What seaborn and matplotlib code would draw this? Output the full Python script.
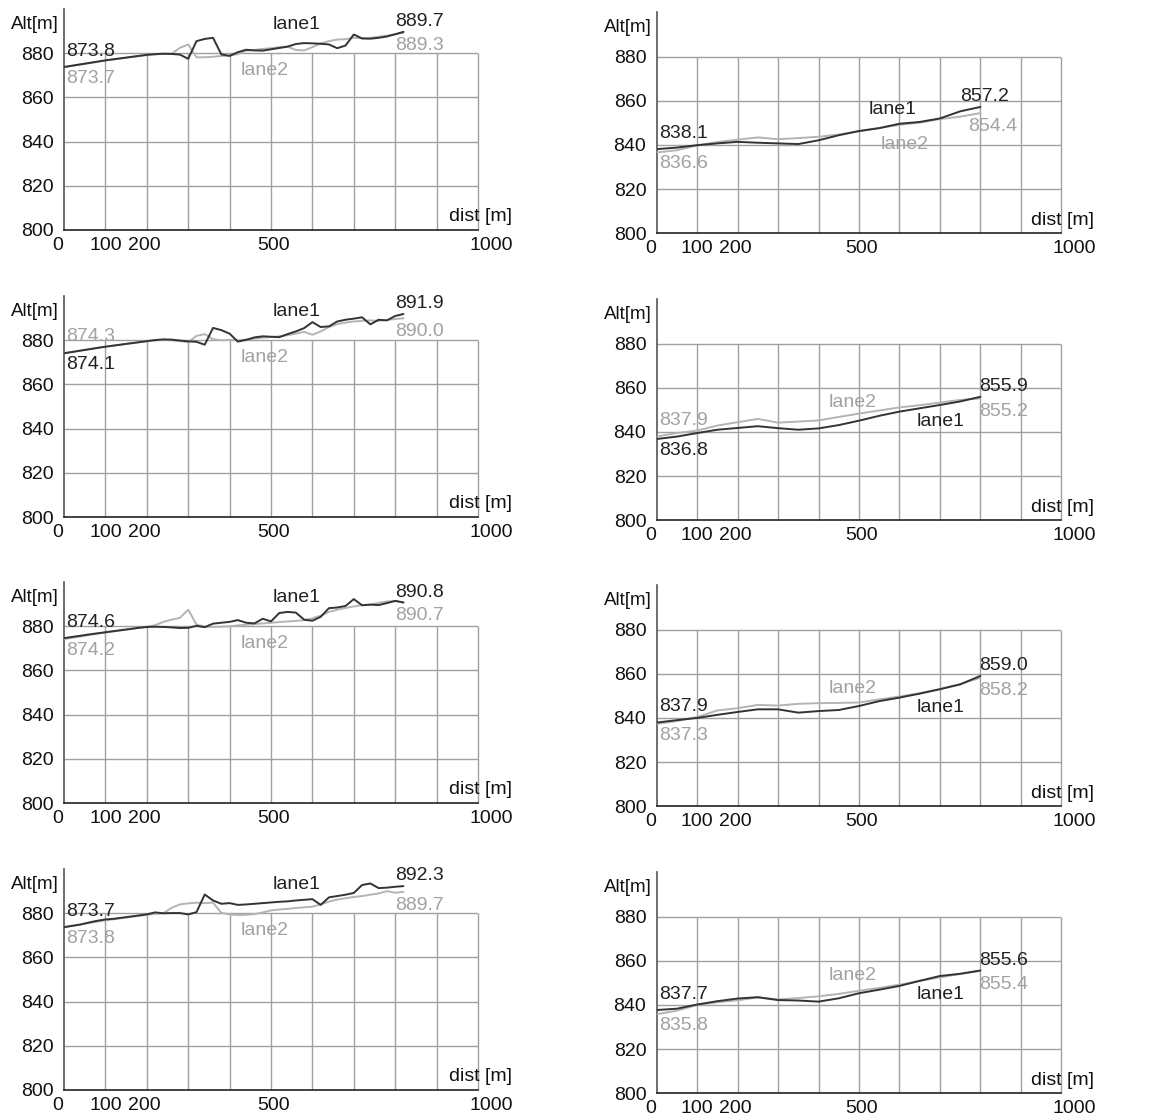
import matplotlib
matplotlib.use("Agg")
import matplotlib.pyplot as plt
import pandas as pd
import seaborn as sns

# distance grids (m)
dist_left = list(range(0, 821, 20))
dist_right = list(range(0, 801, 50))

# left column, altitude (m)
a_lane1 = [873.8, 874.4, 875.0, 875.6, 876.2, 876.8, 877.3, 877.8, 878.3, 878.8, 879.3,
           879.6, 879.8, 879.7, 879.4, 877.5, 885.5, 886.5, 887.0, 879.5, 878.8, 880.5,
           881.6, 881.3, 881.2, 881.8, 882.4, 883.0, 884.2, 884.6, 884.5, 884.3, 884.0,
           882.3, 883.5, 888.5, 886.7, 886.6, 887.0, 887.6, 888.6, 889.7]
a_lane2 = [873.7, 874.3, 874.9, 875.5, 876.1, 876.7, 877.2, 877.7, 878.2, 878.7, 879.2,
           879.5, 879.7, 879.8, 882.5, 884.0, 878.2, 878.2, 878.4, 878.8, 879.0, 879.6,
           881.2, 881.5, 882.0, 882.3, 882.8, 883.0, 881.5, 881.3, 882.8, 884.5, 885.5,
           886.2, 886.4, 887.0, 886.8, 887.0, 887.5, 888.0, 888.7, 889.3]

b_lane1 = [874.1, 874.7, 875.3, 875.9, 876.5, 877.1, 877.6, 878.1, 878.6, 879.1, 879.6,
           880.1, 880.4, 880.3, 879.9, 879.5, 879.3, 878.0, 885.6, 884.6, 883.0, 879.4,
           880.2, 881.3, 881.8, 881.6, 881.4, 882.8, 884.0, 885.5, 888.2, 886.0, 886.3,
           888.5, 889.3, 889.8, 890.4, 887.2, 889.3, 889.0, 891.0, 891.9]
b_lane2 = [874.3, 874.8, 875.4, 876.0, 876.6, 877.1, 877.6, 878.1, 878.6, 879.1, 879.5,
           880.0, 880.2, 880.0, 879.6, 879.2, 882.0, 882.8, 880.5, 880.0, 880.2, 880.0,
           880.3, 880.8, 881.2, 881.5, 881.8, 882.3, 883.0, 883.8, 882.5, 884.0, 886.0,
           887.3, 888.0, 888.5, 888.8, 889.0, 888.8, 889.2, 889.6, 890.0]

c_lane1 = [874.6, 875.2, 875.7, 876.3, 876.8, 877.3, 877.8, 878.3, 878.8, 879.3, 879.7,
           879.8, 879.7, 879.5, 879.2, 879.3, 880.2, 879.6, 881.2, 881.6, 882.0, 882.8,
           881.6, 881.3, 883.4, 882.2, 886.0, 886.5, 886.2, 883.0, 882.5, 884.3, 888.2,
           888.5, 889.2, 892.3, 889.5, 889.8, 889.6, 890.5, 891.5, 890.8]
c_lane2 = [874.2, 874.8, 875.4, 876.0, 876.6, 877.2, 877.7, 878.2, 878.7, 879.2, 879.7,
           880.5, 882.0, 883.0, 883.8, 887.5, 880.8, 879.8, 879.7, 879.8, 880.0, 880.4,
           880.7, 881.0, 881.3, 881.6, 881.9, 882.2, 882.4, 882.8, 883.6, 884.8, 886.5,
           887.5, 888.3, 889.0, 889.6, 889.8, 890.6, 891.2, 891.4, 890.7]

d_lane1 = [873.7, 874.3, 874.9, 875.8, 876.6, 877.2, 877.5, 878.0, 878.5, 879.0, 879.5,
           880.4, 880.0, 880.1, 880.1, 879.5, 880.5, 888.5, 885.8, 884.3, 884.6, 883.8,
           884.0, 884.3, 884.6, 884.9, 885.2, 885.4, 885.8, 886.1, 886.4, 883.8, 887.2,
           887.8, 888.4, 889.2, 892.8, 893.5, 891.4, 891.6, 892.0, 892.3]
d_lane2 = [873.8, 874.4, 875.0, 875.6, 876.2, 876.8, 877.3, 877.8, 878.3, 878.8, 879.3,
           879.7, 880.0, 882.5, 884.0, 884.5, 884.8, 884.6, 884.8, 880.2, 879.5, 879.2,
           879.3, 879.6, 880.4, 881.3, 881.7, 882.0, 882.4, 882.7, 883.0, 884.0, 885.3,
           886.2, 886.8, 887.4, 887.8, 888.4, 889.0, 890.0, 889.3, 889.7]

# right column, altitude (m)
e_lane1 = [838.1, 838.8, 839.9, 840.7, 841.4, 841.0, 840.7, 840.4, 842.1, 844.4, 846.3,
           847.6, 849.6, 850.4, 852.0, 855.2, 857.2]
e_lane2 = [836.6, 837.6, 839.8, 841.3, 842.4, 843.4, 842.6, 843.1, 843.7, 844.7, 846.2,
           847.7, 849.1, 850.1, 851.7, 852.8, 854.4]

f_lane1 = [836.8, 837.9, 839.5, 841.0, 841.8, 842.6, 841.7, 841.0, 841.6, 843.1, 845.1,
           847.3, 849.2, 850.7, 852.2, 853.8, 855.9]
f_lane2 = [837.9, 839.5, 840.6, 842.9, 844.4, 845.9, 844.2, 844.7, 845.2, 846.8, 848.3,
           849.7, 851.1, 852.1, 853.3, 854.5, 855.2]

g_lane1 = [837.9, 839.0, 840.0, 841.4, 842.7, 843.9, 843.9, 842.4, 843.1, 843.6, 845.4,
           847.6, 849.2, 851.0, 853.0, 855.2, 859.0]
g_lane2 = [837.3, 838.6, 840.4, 843.4, 844.4, 845.9, 845.6, 846.4, 846.7, 846.8, 847.0,
           848.4, 849.7, 851.2, 853.1, 855.3, 858.2]

h_lane1 = [837.7, 838.3, 840.2, 841.7, 842.9, 843.5, 842.2, 842.0, 841.5, 843.0, 845.3,
           846.9, 848.6, 850.9, 853.1, 854.1, 855.6]
h_lane2 = [835.8, 837.4, 840.0, 841.2, 842.1, 843.4, 842.5, 843.1, 843.9, 845.0, 846.4,
           847.7, 849.2, 850.9, 852.5, 854.0, 855.4]

x_ticks = [0, 100, 200, 500, 1000]
y_ticks = [800, 820, 840, 860, 880]

sns.set_theme(style="white")
plt.rcParams['font.family'] = ['Liberation Sans', 'DejaVu Sans']

DARK = "#333333"
LIGHT = "#b4b4b4"
TXT_DARK = "#222222"
TXT_LIGHT = "#a2a2a2"
GRID = "#a0a0a0"
FS = 14

fig = plt.figure(figsize=(11.51, 11.15), dpi=100)
W, H = 1151, 1115

# panel: distances, lane1, lane2, column, row, which lane's start value sits on top
panels = [
    (dist_left, a_lane1, a_lane2, 0, 0, "lane1"),
    (dist_left, b_lane1, b_lane2, 0, 1, "lane2"),
    (dist_left, c_lane1, c_lane2, 0, 2, "lane1"),
    (dist_left, d_lane1, d_lane2, 0, 3, "lane1"),
    (dist_right, e_lane1, e_lane2, 1, 0, "lane1"),
    (dist_right, f_lane1, f_lane2, 1, 1, "lane2"),
    (dist_right, g_lane1, g_lane2, 1, 2, "lane1"),
    (dist_right, h_lane1, h_lane2, 1, 3, "lane1"),
]

col_x = [(64, 414), (656.7, 404.6)]
row_y = [230, 517, 803, 1090]
tick_dx = {0: -4.5, 100: 0, 200: -2, 500: 1.5, 1000: 9.5}

for idx, (dist, l1, l2, col, row, start_top) in enumerate(panels):
    x0, w = col_x[col]
    y800 = row_y[row] + (3.3 if col == 1 else 0)
    ax = fig.add_axes([x0 / W, 1 - y800 / H, w / W, 220.9 / H])

    df = pd.DataFrame({
        "dist": dist + dist,
        "alt": l1 + l2,
        "lane": ["lane1"] * len(dist) + ["lane2"] * len(dist),
    })
    sns.lineplot(data=df, x="dist", y="alt", hue="lane", hue_order=["lane2", "lane1"],
                 palette={"lane1": DARK, "lane2": LIGHT}, legend=False, ax=ax,
                 linewidth=1.4, zorder=3)

    ax.set_xlim(0, 1000)
    ax.set_ylim(800, 900)
    ax.set_xlabel("")
    ax.set_ylabel("")

    # grid box 0..1000 x 800..880
    ax.hlines([820, 840, 860, 880], 0, 1000, color=GRID, lw=1, zorder=1)
    ax.vlines(range(100, 1001, 100), 800, 880, color=GRID, lw=1, zorder=1, clip_on=False)

    for s in ["top", "right"]:
        ax.spines[s].set_visible(False)
    ax.spines["left"].set_color("#555555")
    ax.spines["left"].set_linewidth(1.2)
    ax.spines["bottom"].set_color("#222222")
    ax.spines["bottom"].set_linewidth(1.2)

    ax.set_yticks(y_ticks)
    ax.tick_params(axis="y", length=0, pad=7.5, labelsize=FS, labelcolor="#111111")
    ax.set_xticks([])
    for t in x_ticks:
        ax.annotate(str(t), xy=(t, 0), xycoords=ax.get_xaxis_transform(),
                    xytext=(tick_dx[t], -5), textcoords="offset points",
                    ha="center", va="top", fontsize=FS, color="#111111",
                    annotation_clip=False)

    ax.annotate("Alt[m]", xy=(0, 893), xytext=(-3.5, 0), textcoords="offset points",
                ha="right", va="center", fontsize=FS - 0.5, color="#111111",
                annotation_clip=False)
    ax.text(1081, 806, "dist [m]", ha="right", va="center", fontsize=FS,
            color="#111111", clip_on=False)

    # start values
    top_vals, bot_vals = (l1, l2) if start_top == "lane1" else (l2, l1)
    top_c, bot_c = (TXT_DARK, TXT_LIGHT) if start_top == "lane1" else (TXT_LIGHT, TXT_DARK)
    ax.annotate(f"{top_vals[0]:.1f}", xy=(6, top_vals[0]), xytext=(0, 11.5),
                textcoords="offset points", ha="left", va="center", fontsize=FS,
                color=top_c, zorder=4)
    ax.annotate(f"{bot_vals[0]:.1f}", xy=(6, bot_vals[0]), xytext=(0, -8),
                textcoords="offset points", ha="left", va="center", fontsize=FS,
                color=bot_c, zorder=4)

    # end values
    if col == 0:
        ex1, ex2 = 800, 800
    elif idx == 4:
        ex1, ex2 = 750, 770
    else:
        ex1, ex2 = 797, 797
    ax.annotate(f"{l1[-1]:.1f}", xy=(ex1, l1[-1]), xytext=(0, 7.5),
                textcoords="offset points", ha="left", va="center", fontsize=FS,
                color=TXT_DARK, zorder=4)
    ax.annotate(f"{l2[-1]:.1f}", xy=(ex2, l2[-1]), xytext=(0, -9.5),
                textcoords="offset points", ha="left", va="center", fontsize=FS,
                color=TXT_LIGHT, zorder=4)

    # lane names
    if col == 0:
        p1, p2 = (562, 893), (484, 872.4)
    elif idx == 4:
        p1, p2 = (582, 856), (613, 840.2)
    else:
        p1, p2 = (701, 844.7), (485, 853.5)
    ax.text(p1[0], p1[1], "lane1", ha="center", va="center", fontsize=FS,
            color=TXT_DARK, zorder=4)
    ax.text(p2[0], p2[1], "lane2", ha="center", va="center", fontsize=FS,
            color=TXT_LIGHT, zorder=4)

fig.savefig("out.png", dpi=100, facecolor="white")
